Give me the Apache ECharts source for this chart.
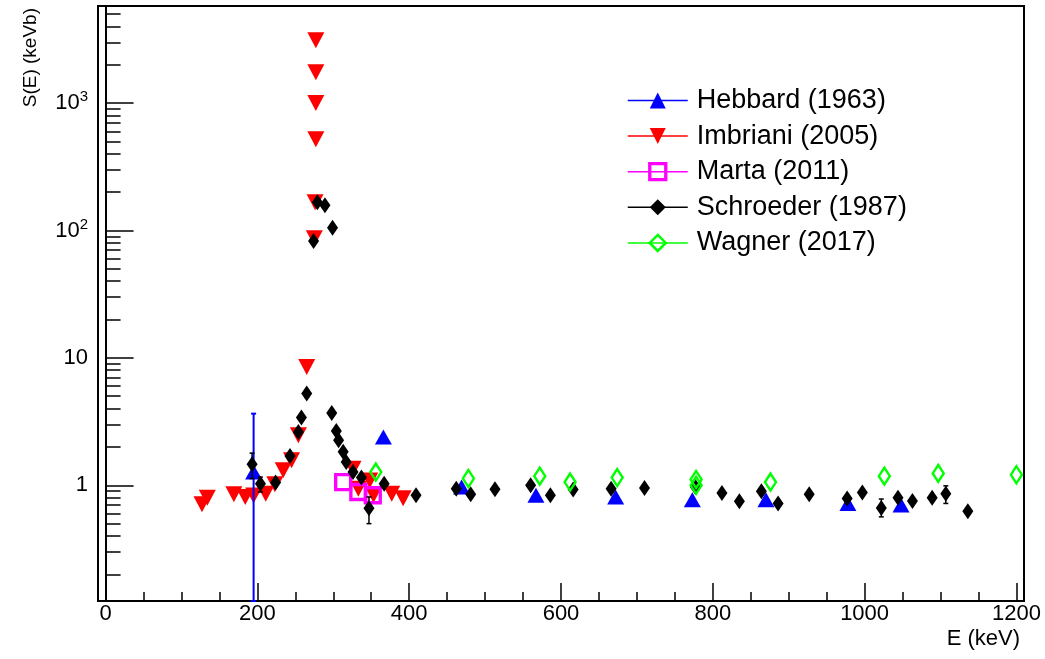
<!DOCTYPE html>
<html>
<head>
<meta charset="utf-8">
<script src="https://cdn.jsdelivr.net/npm/echarts@6/dist/echarts.min.js"></script>
<style>
  html, body { margin: 0; padding: 0; background: #fff; }
  #chart { width: 1045px; height: 659px; }
</style>
</head>
<body>
<div id="chart"></div>
<script>
// Astrophysical S-factor measurements, E in keV, S in keV b
const hebbardE = [195, 366, 469, 567, 672, 773, 870, 978, 1048];
const hebbardS = [1.27, 2.39, 0.97, 0.835, 0.81, 0.77, 0.77, 0.72, 0.70];

const imbrianiE = [127, 134, 169, 184, 195, 211, 223, 234, 245, 254, 265, 275, 276, 277, 277, 277, 277, 326, 333, 348, 353, 377, 392];
const imbrianiS = [0.71, 0.80, 0.85, 0.81, 0.83, 0.86, 1.02, 1.31, 1.57, 2.47, 8.5, 87, 167, 520, 1000, 1750, 3110, 1.35, 0.94, 1.09, 0.84, 0.86, 0.79];

const martaE = [313, 333, 352];
const martaS = [1.06, 0.886, 0.835];

const schroederE = [193, 204, 224, 243, 254, 258, 265, 274, 279, 289, 299, 298, 304, 307, 313, 317, 326, 337, 347, 367, 409, 462, 481, 513, 560, 586, 616, 666, 710, 777, 812, 835, 864, 886, 927, 977, 997, 1022, 1044, 1063, 1089, 1107, 1136];
const schroederS = [1.46, 1.03, 1.05, 1.70, 2.62, 3.40, 5.25, 82.7, 167, 158, 105, 3.70, 2.67, 2.26, 1.83, 1.52, 1.27, 1.15, 0.66, 1.03, 0.835, 0.94, 0.85, 0.93, 1.0, 0.835, 0.925, 0.94, 0.95, 0.97, 0.87, 0.75, 0.897, 0.72, 0.85, 0.786, 0.876, 0.664, 0.80, 0.753, 0.80, 0.86, 0.625];

const wagnerE = [356, 478, 572, 612, 674, 778, 778, 876, 1026, 1097, 1200];
const wagnerS = [1.27, 1.13, 1.18, 1.06, 1.15, 1.11, 1.00, 1.06, 1.18, 1.24, 1.21];

// Error bars: [E, S low, S high]
const hebbardErr = [[195, 0.01, 3.65]];
const schroederErr = [[193, 1.13, 1.79], [204, 0.886, 1.16], [224, 0.98, 1.12], [265, 4.9, 5.6], [347, 0.50, 0.81], [1022, 0.565, 0.78], [1107, 0.72, 0.99]];

// Axis ranges and tick positions
const X_MIN = -10, X_MAX = 1210;
const Y_MIN = 0.1235, Y_MAX = 5785;
const xMajor = [0, 200, 400, 600, 800, 1000, 1200];
const xMinor = [50, 100, 150, 250, 300, 350, 450, 500, 550, 650, 700, 750, 850, 900, 950, 1050, 1100, 1150];
const yMajor = [1, 10, 100, 1000];
const yMinor = [0.2, 0.3, 0.4, 0.5, 0.6, 0.7, 0.8, 0.9,
                2, 3, 4, 5, 6, 7, 8, 9,
                20, 30, 40, 50, 60, 70, 80, 90,
                200, 300, 400, 500, 600, 700, 800, 900,
                2000, 3000, 4000, 5000];

const FONT = '"Liberation Sans", Arial, Helvetica, sans-serif';

function pairs(xs, ys) { return xs.map((x, i) => [x, ys[i]]); }

function errorBars(color, width) {
  return function (params, api) {
    const e = api.value(0);
    const lo = Math.max(api.value(1), Y_MIN);
    const hi = api.value(2);
    const pLo = api.coord([e, lo]);
    const pHi = api.coord([e, hi]);
    const cap = 2.5;
    const style = { stroke: color, lineWidth: width };
    return {
      type: 'group',
      children: [
        { type: 'line', shape: { x1: pLo[0], y1: pLo[1], x2: pHi[0], y2: pHi[1] }, style },
        { type: 'line', shape: { x1: pHi[0] - cap, y1: pHi[1], x2: pHi[0] + cap, y2: pHi[1] }, style },
        { type: 'line', shape: { x1: pLo[0] - cap, y1: pLo[1], x2: pLo[0] + cap, y2: pLo[1] }, style }
      ]
    };
  };
}

function yLabel(v) {
  const p = Math.round(Math.log10(v));
  if (p === 0) return '1';
  if (p === 1) return '10';
  return '10{sup|' + p + '}';
}

const chart = echarts.init(document.getElementById('chart'), null, { renderer: 'canvas' });

const markerSeries = (name, data, opts) => Object.assign({
  type: 'line',
  name: name,
  data: data,
  showSymbol: true,
  silent: true,
  animation: false,
  xAxisIndex: 0,
  yAxisIndex: 0
}, opts);

chart.setOption({
  animation: false,
  backgroundColor: '#fff',
  grid: {
    left: 98, right: 21, top: 6, bottom: 58,
    show: true, borderColor: '#000', borderWidth: 2, backgroundColor: 'transparent'
  },
  xAxis: [
    {
      type: 'value', min: X_MIN, max: X_MAX, position: 'bottom',
      axisLine: { show: true, lineStyle: { color: '#000', width: 2 } },
      axisTick: { show: true, inside: true, length: 18, customValues: xMajor, lineStyle: { color: '#000', width: 1.5 } },
      axisLabel: { show: true, customValues: xMajor, color: '#000', fontSize: 22, fontFamily: FONT, margin: 2,
                   formatter: v => String(Math.round(v)) },
      splitLine: { show: false }
    },
    {
      type: 'value', min: X_MIN, max: X_MAX, position: 'bottom',
      axisLine: { show: false },
      axisTick: { show: true, inside: true, length: 9, customValues: xMinor, lineStyle: { color: '#000', width: 1.5 } },
      axisLabel: { show: false },
      splitLine: { show: false }
    }
  ],
  yAxis: [
    {
      type: 'log', logBase: 10, min: Y_MIN, max: Y_MAX, position: 'left',
      axisLine: { show: true, lineStyle: { color: '#000', width: 2 } },
      axisTick: { show: true, inside: true, length: 28, customValues: yMajor, lineStyle: { color: '#000', width: 1.5 } },
      axisLabel: {
        show: true, customValues: yMajor, color: '#000', fontSize: 22, fontFamily: FONT, margin: 10,
        formatter: yLabel,
        rich: { sup: { fontSize: 15, fontFamily: FONT, color: '#000', verticalAlign: 'top', padding: [0, 0, 12, 0] } }
      },
      splitLine: { show: false }
    },
    {
      type: 'log', logBase: 10, min: Y_MIN, max: Y_MAX, position: 'left',
      axisLine: { show: false },
      axisTick: { show: true, inside: true, length: 15, customValues: yMinor, lineStyle: { color: '#000', width: 1.5 } },
      axisLabel: { show: false },
      splitLine: { show: false }
    }
  ],
  legend: {
    orient: 'vertical', left: 622, top: 82,
    itemWidth: 60, itemHeight: 20, itemGap: 8.6,
    selectedMode: false,
    textStyle: { fontSize: 27, fontFamily: FONT, color: '#000', lineHeight: 26, padding: [0, 0, 0, 4] },
    lineStyle: { width: 1.5, opacity: 1 },
    data: [
      'Hebbard (1963)',
      'Imbriani (2005)',
      { name: 'Marta (2011)', itemStyle: { borderWidth: 3.3 } },
      'Schroeder (1987)',
      { name: 'Wagner (2017)', itemStyle: { borderWidth: 2.5 } }
    ]
  },
  graphic: [
    {
      type: 'text', x: 31, y: 8, rotation: Math.PI / 2,
      style: { text: 'S(E) (keVb)', font: '19px ' + FONT, fill: '#000', align: 'right', verticalAlign: 'middle' }
    },
    {
      type: 'text', x: 1020, y: 639,
      style: { text: 'E (keV)', font: '22px ' + FONT, fill: '#000', align: 'right', verticalAlign: 'middle' }
    }
  ],
  series: [
    markerSeries('Imbriani (2005)', pairs(imbrianiE, imbrianiS), {
      symbol: 'triangle', symbolRotate: 180, symbolSize: [17, 16],
      itemStyle: { color: '#ff0000' }, lineStyle: { color: '#ff0000', opacity: 0 }, z: 3
    }),
    markerSeries('Marta (2011)', pairs(martaE, martaS), {
      symbol: 'rect', symbolSize: 15,
      itemStyle: { color: 'rgba(0,0,0,0)', borderColor: '#ff00ff', borderWidth: 3.3 },
      lineStyle: { color: '#ff00ff', opacity: 0 }, z: 4
    }),
    {
      type: 'custom', renderItem: errorBars('#0000ff', 2), data: hebbardErr,
      encode: { x: 0, y: [1, 2] }, silent: true, z: 5
    },
    markerSeries('Hebbard (1963)', pairs(hebbardE, hebbardS), {
      symbol: 'triangle', symbolSize: [17, 15],
      itemStyle: { color: '#0000ff' }, lineStyle: { color: '#0000ff', opacity: 0 }, z: 5
    }),
    {
      type: 'custom', renderItem: errorBars('#000000', 1.5), data: schroederErr,
      encode: { x: 0, y: [1, 2] }, silent: true, z: 6
    },
    markerSeries('Schroeder (1987)', pairs(schroederE, schroederS), {
      symbol: 'diamond', symbolSize: [11, 16],
      itemStyle: { color: '#000000' }, lineStyle: { color: '#000000', opacity: 0 }, z: 6
    }),
    markerSeries('Wagner (2017)', pairs(wagnerE, wagnerS), {
      symbol: 'diamond', symbolSize: [11, 17],
      itemStyle: { color: 'rgba(0,0,0,0)', borderColor: '#00ff00', borderWidth: 2.5 },
      lineStyle: { color: '#00ff00', opacity: 0 }, z: 7
    })
  ]
});
</script>
</body>
</html>
